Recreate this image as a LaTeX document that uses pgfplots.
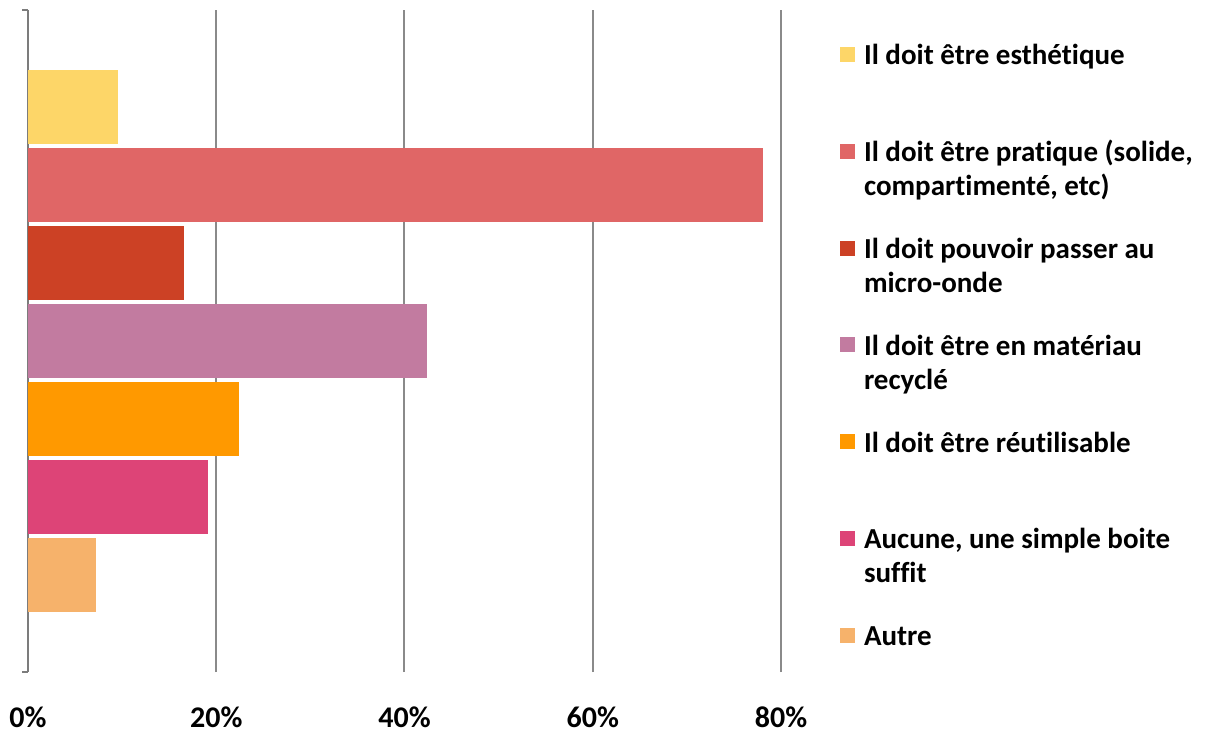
\documentclass[border=0pt]{standalone}
\usepackage{fontspec}
\setmainfont{Carlito}[Ligatures=NoCommon]
\usepackage{pgfplots}
\pgfplotsset{compat=1.18}

\definecolor{cA}{HTML}{FDD668}
\definecolor{cB}{HTML}{E06666}
\definecolor{cC}{HTML}{CC4125}
\definecolor{cD}{HTML}{C27BA0}
\definecolor{cE}{HTML}{FF9900}
\definecolor{cF}{HTML}{DD4477}
\definecolor{cG}{HTML}{F6B26B}
\definecolor{gridgray}{HTML}{8A8A8A}

% legend text, top-aligned so the square sits on the first line
\newcommand{\lgd}[1]{\parbox[t]{190pt}{\fontsize{14.5}{17}\selectfont\bfseries\strut #1}}

\begin{document}
\begin{tikzpicture}
\path[use as bounding box] (0,0) rectangle (603.5pt,367.5pt);
\begin{axis}[
    at={(14pt,31.5pt)}, anchor=south west,
    scale only axis,
    width=376.5pt, height=331pt,
    xmin=0, xmax=80,
    ymin=-0.244, ymax=8.244,
    xbar, bar width=0.949, bar shift=0pt,
    axis y line*=left,
    axis x line*=bottom,
    x axis line style={draw=none},
    y axis line style={draw=gridgray!90!black, line width=1pt},
    xtick={0,20,40,60,80},
    xticklabels={0\%,20\%,40\%,60\%,80\%},
    xtick style={draw=none},
    xticklabel style={font=\fontsize{15}{18}\selectfont\bfseries, anchor=base, yshift=-24.5pt},
    ytick={-0.244,8.244},
    yticklabels={},
    ytick style={draw=gridgray!90!black, line width=1pt},
    tick align=outside,
    major tick length=3pt,
    xmajorgrids,
    major grid style={draw=gridgray, line width=1pt},
    legend image code/.code={\fill[#1, draw=none] (0pt,1.5pt) rectangle (7.5pt,9pt);},
    legend style={draw=none, fill=none, inner sep=0pt, outer sep=0pt,
        row sep=35pt, column sep=4.5pt,
        nodes={inner sep=0pt, outer sep=0pt},
        cells={anchor=base west},
        at={(1.0784,0.953)}, anchor=north west},
]
\addplot[fill=cA, draw=none] coordinates {(9.56,7)};
\addlegendentry{\lgd{Il doit être esthétique}}
\addplot[fill=cB, draw=none] coordinates {(78.1,6)};
\addlegendentry{\lgd{Il doit être pratique (solide,\\compartimenté, etc)}}
\addplot[fill=cC, draw=none] coordinates {(16.6,5)};
\addlegendentry{\lgd{Il doit pouvoir passer au\\micro-onde}}
\addplot[fill=cD, draw=none] coordinates {(42.4,4)};
\addlegendentry{\lgd{Il doit être en matériau\\recyclé}}
\addplot[fill=cE, draw=none] coordinates {(22.4,3)};
\addlegendentry{\lgd{Il doit être réutilisable}}
\addplot[fill=cF, draw=none] coordinates {(19.1,2)};
\addlegendentry{\lgd{Aucune, une simple boite\\suffit}}
\addplot[fill=cG, draw=none] coordinates {(7.2,1)};
\addlegendentry{\lgd{Autre}}
\end{axis}
\end{tikzpicture}
\end{document}
